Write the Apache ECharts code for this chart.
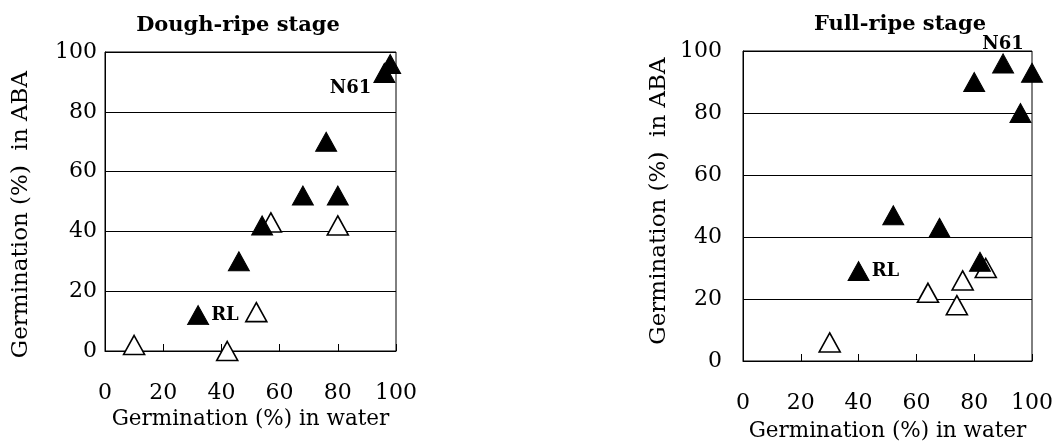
<!DOCTYPE html>
<html>
<head>
<meta charset="utf-8">
<style>
    html, body { margin: 0; padding: 0; background: #fff; }
    #echarts { width: 1061px; height: 442px; }
</style>
</head>
<body>
<div id="echarts"></div>
<script src="https://cdn.jsdelivr.net/npm/echarts@6/dist/echarts.min.js"></script>
<script>
    // 数据 (x: germination in water %, y: germination in ABA %)
    let doughFilled = [[98, 96], [96, 93], [76, 70], [68, 52], [80, 52], [54, 42], [46, 30], [32, 12]];
    let doughOpen = [[57, 43], [80, 42], [52, 13], [10, 2], [42, 0]];
    let fullFilled = [[90, 96], [100, 93], [80, 90], [96, 80], [52, 47], [68, 43], [40, 29], [82, 32]];
    let fullOpen = [[84, 30], [76, 26], [64, 22], [74, 18], [30, 6]];
    let axisTicks = [0, 20, 40, 60, 80, 100];
    let titles = ['Dough-ripe stage', 'Full-ripe stage'];
    // 标注: [series, index, text, position, y偏移]
    let notes = [
        ['doughFilled', 1, 'N61', 'left', 15],
        ['doughFilled', 7, 'RL', 'right', 0],
        ['fullFilled', 0, 'N61', 'top', 0],
        ['fullFilled', 6, 'RL', 'right', 0],
    ];

    const font = 'DejaVu Serif';
    let myChart = echarts.init(document.getElementById('echarts'));

    function withNotes(name, data) {
        return data.map(function (p, i) {
            let n = notes.find(function (v) { return v[0] === name && v[1] === i; });
            if (!n) return p;
            return {
                value: p,
                label: {
                    show: true, formatter: n[2], position: n[3], distance: n[3] === 'top' ? 0 : 2,
                    offset: [0, n[4]],
                    color: '#000', fontFamily: font, fontSize: 18, fontWeight: 'bold'
                }
            };
        });
    }

    function xAxis(idx, labelMargin, nameGap) {
        return {
            gridIndex: idx, type: 'value', min: 0, max: 100, interval: 20,
            name: 'Germination (%) in water', nameLocation: 'middle', nameGap: nameGap,
            nameTextStyle: {color: '#000', fontFamily: font, fontSize: 21.5},
            axisLine: {lineStyle: {color: '#000', width: 1}},
            axisTick: {inside: true, length: 7, lineStyle: {color: '#000'}},
            axisLabel: {
                margin: labelMargin, color: '#000', fontFamily: font, fontSize: 22,
                formatter: function (v) { return axisTicks.indexOf(v) >= 0 ? String(v) : ''; }
            },
            splitLine: {show: false}
        };
    }

    function yAxis(idx, labelMargin, pad) {
        return {
            gridIndex: idx, type: 'value', min: 0, max: 100, interval: 20,
            name: 'Germination (%)  in ABA', nameLocation: 'middle', nameGap: 72,
            nameTextStyle: {color: '#000', fontFamily: font, fontSize: 23, padding: pad},
            axisLine: {show: true, lineStyle: {color: '#000', width: 1}},
            axisTick: {show: false},
            axisLabel: {margin: labelMargin, color: '#000', fontFamily: font, fontSize: 22},
            splitLine: {show: true, lineStyle: {color: '#000', width: 1}}
        };
    }

    function scatter(name, idx, data, filled) {
        return {
            type: 'scatter', xAxisIndex: idx, yAxisIndex: idx,
            symbol: 'triangle', symbolSize: [21, 19],
            itemStyle: filled
                ? {color: '#000', borderColor: '#000', borderWidth: 1, opacity: 1}
                : {color: '#fff', borderColor: '#000', borderWidth: 1.6, opacity: 1},
            data: withNotes(name, data)
        };
    }

    myChart.setOption({
        animation: false,
        backgroundColor: '#fff',
        title: [
            {text: titles[0], left: 233, top: 10, textAlign: 'center',
                textStyle: {color: '#000', fontFamily: font, fontSize: 21, fontWeight: 'bold'}},
            {text: titles[1], left: 895, top: 9, textAlign: 'center',
                textStyle: {color: '#000', fontFamily: font, fontSize: 21, fontWeight: 'bold'}},
        ],
        grid: [
            {left: 105, top: 52, width: 291, height: 299, show: true, borderColor: '#000', borderWidth: 1,
                containLabel: false, outerBoundsMode: 'none'},
            {left: 743, top: 51, width: 289, height: 310, show: true, borderColor: '#000', borderWidth: 1,
                containLabel: false, outerBoundsMode: 'none'},
        ],
        xAxis: [xAxis(0, 31, 54), xAxis(1, 31, 59)],
        yAxis: [yAxis(0, 8, [0, 26, 0, 0]), yAxis(1, 21, [0, 0, 0, 10])],
        series: [
            scatter('doughOpen', 0, doughOpen, false),
            scatter('doughFilled', 0, doughFilled, true),
            scatter('fullOpen', 1, fullOpen, false),
            scatter('fullFilled', 1, fullFilled, true),
        ]
    });
</script>
</body>
</html>
